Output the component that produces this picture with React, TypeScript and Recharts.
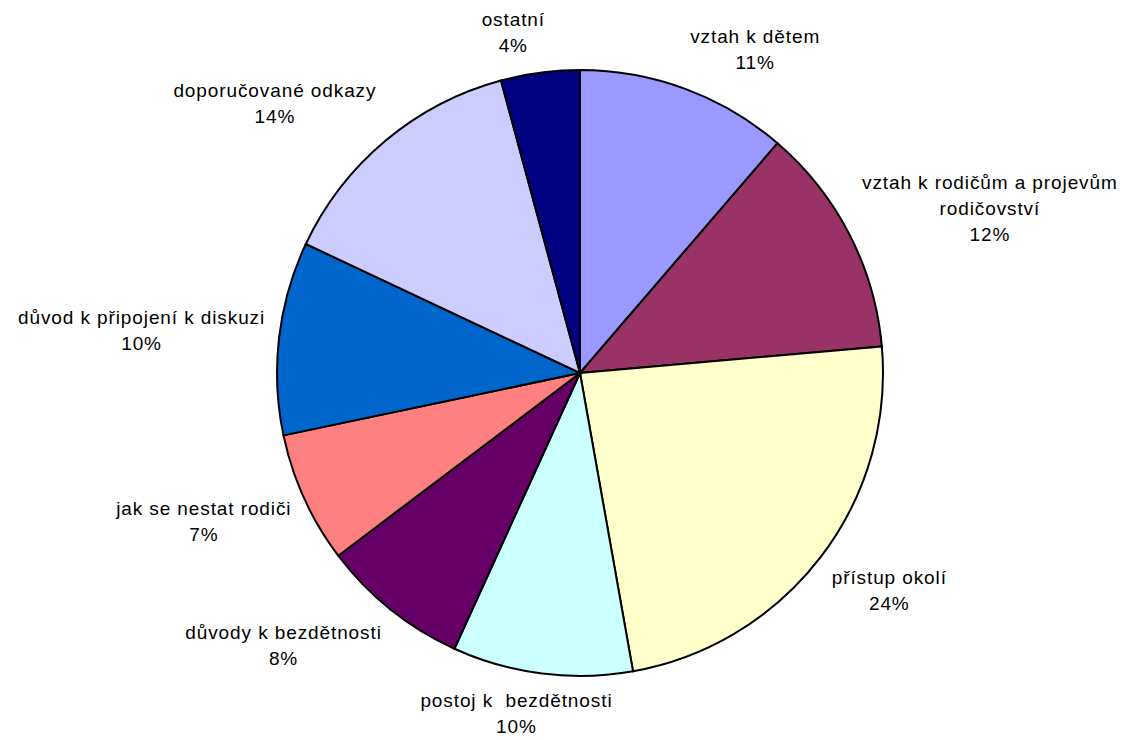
import React from 'react';
import { PieChart, Pie, Cell } from 'recharts';

// Kategorie a podíly (po směru hodinových ručiček od 12 hodin)
const categories = [
  'vztah k dětem',
  'vztah k rodičům a projevům rodičovství',
  'přístup okolí',
  'postoj k  bezdětnosti',
  'důvody k bezdětnosti',
  'jak se nestat rodiči',
  'důvod k připojení k diskuzi',
  'doporučované odkazy',
  'ostatní',
];
const shares = [11.3, 12.3, 23.6, 9.6, 7.9, 7.0, 10.3, 13.8, 4.2];
const colors = [
  '#9999FF',
  '#993366',
  '#FFFFCC',
  '#CCFFFF',
  '#660066',
  '#FF8080',
  '#0066CC',
  '#CCCCFF',
  '#000080',
];

const FONT = '"Liberation Sans", Arial, sans-serif';
const FONT_SIZE = 19;
const LETTER = 0.9;
const LINE_H = 26;
const MAX_LINE = 300;

const data = categories.map((name, i) => ({ name, value: shares[i] }));

let ctx: CanvasRenderingContext2D | null = null;
const measure = (s: string) => {
  if (!ctx) ctx = document.createElement('canvas').getContext('2d');
  if (!ctx) return s.length * FONT_SIZE * 0.55;
  ctx.font = `${FONT_SIZE}px "Liberation Sans", Arial, sans-serif`;
  return ctx.measureText(s).width + s.length * LETTER;
};

const wrap = (text: string) => {
  const words = text.split(' ');
  const lines: string[] = [];
  let cur = '';
  words.forEach((w) => {
    const next = cur === '' ? w : `${cur} ${w}`;
    if (cur !== '' && measure(next) > MAX_LINE) {
      lines.push(cur);
      cur = w;
    } else {
      cur = next;
    }
  });
  if (cur !== '') lines.push(cur);
  return lines;
};

const clamp = (v: number, lim: number) => Math.max(-lim, Math.min(lim, v));

// popisek vně výseče, posunutý směrem od středu
const renderLabel = (props: any) => {
  const { cx, cy, midAngle, outerRadius, name, percent } = props;
  const rad = (-midAngle * Math.PI) / 180;
  const dx = Math.cos(rad);
  const dy = Math.sin(rad);
  const r = outerRadius + 14;
  const px = cx + r * dx;
  const py = cy + r * dy;
  const lines = [...wrap(name), `${Math.round(percent * 100)}%`];
  const w = Math.max(...lines.map(measure));
  const h = lines.length * LINE_H;
  const bx = px + clamp(dx * 190, w / 2);
  const by = py + clamp(dy * 42, h / 2);
  const top = by - h / 2;
  return (
    <text
      x={bx}
      y={top}
      textAnchor="middle"
      fill="#000"
      fontFamily={FONT}
      fontSize={FONT_SIZE}
      letterSpacing={LETTER}
      style={{ whiteSpace: 'pre' }}
    >
      {lines.map((l, i) => (
        <tspan key={i} x={bx} y={top + LINE_H * i + 19}>
          {l}
        </tspan>
      ))}
    </text>
  );
};

export default function App() {
  return (
    <div style={{ position: 'absolute', left: 0, top: 0, background: '#fff' }}>
      <PieChart width={1133} height={740} margin={{ top: 0, right: 0, bottom: 0, left: 0 }}>
        <Pie
          data={data}
          dataKey="value"
          nameKey="name"
          cx={580}
          cy={373}
          outerRadius={303}
          startAngle={90}
          endAngle={-270}
          stroke="#000"
          strokeWidth={2}
          label={renderLabel}
          labelLine={false}
          isAnimationActive={false}
        >
          {data.map((d, i) => (
            <Cell key={d.name} fill={colors[i]} />
          ))}
        </Pie>
      </PieChart>
    </div>
  );
}
